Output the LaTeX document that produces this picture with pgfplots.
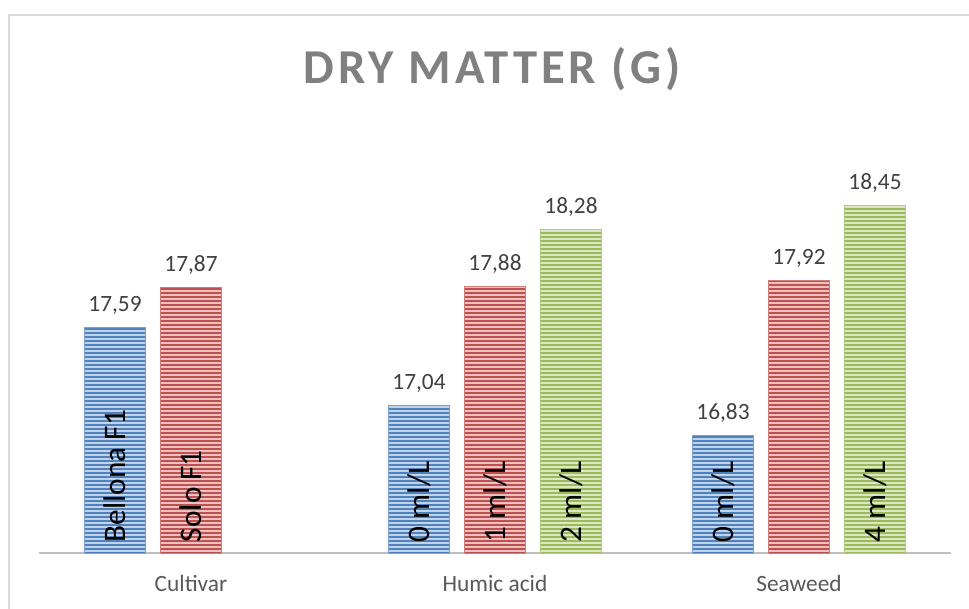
\documentclass[border=0pt]{standalone}
\usepackage{fontspec}
\setmainfont{Carlito}
\usepackage{pgfplots}
\pgfplotsset{compat=1.18}
\usetikzlibrary{patterns.meta}
\definecolor{cblue}{HTML}{4F81BD}
\definecolor{cred}{HTML}{C0504D}
\definecolor{cgreen}{HTML}{9BBB59}
\definecolor{titlegray}{HTML}{808080}
\definecolor{tickgray}{HTML}{595959}
\definecolor{valgray}{HTML}{404040}
\definecolor{axisgray}{HTML}{BFBFBF}
\definecolor{bordergray}{HTML}{D9D9D9}
\pgfplotsset{
  stripebar/.style={
    fill=#1!35!white, draw=#1!75!white, line width=0.5pt,
    postaction={pattern={Lines[angle=0,distance=3pt,line width=1.5pt]}, pattern color=#1}
  },
  vallabels/.style={
    nodes near coords={\pgfmathprintnumber[fixed,fixed zerofill,precision=2,use comma,assume math mode=true]{\pgfplotspointmeta}},
    every node near coord/.append style={font=\fontsize{17.5}{20}\selectfont, text=valgray, anchor=south, yshift=6pt}
  },
  inlabels/.style={
    draw=none, fill=none, point meta=explicit symbolic, nodes near coords,
    every node near coord/.append style={rotate=90, anchor=west, inner xsep=8pt, font=\fontsize{23.5}{28}\selectfont, text=black}
  }
}
\begin{document}
\begin{tikzpicture}
\path[use as bounding box] (0,0) rectangle (726.75pt,456.75pt);
\draw[color=bordergray, line width=1.5pt] (6.75pt,0) -- (6.75pt,445.5pt) -- (726.75pt,445.5pt);
\begin{axis}[
  at={(29.25pt,42pt)}, anchor=south west,
  width=684pt, height=298pt, scale only axis,
  ymin=16, ymax=18.8, xmin=-0.5, xmax=2.5,
  axis y line=none, axis x line*=bottom,
  x axis line style={draw=axisgray, line width=1.5pt, -},
  xtick={0,1,2}, xticklabels={Cultivar, Humic acid, Seaweed},
  major tick length=0pt, ytick=\empty,
  xticklabel style={font=\fontsize{17.5}{20}\selectfont, text=tickgray, yshift=-13.5pt},
  ybar, bar width=0.2, clip=false,
  title={\addfontfeature{LetterSpace=8}DRY MATTER (G)},
  title style={font=\fontsize{36.5}{42}\selectfont\bfseries, text=titlegray, at={(rel axis cs:0.4967,1.198)}, anchor=center},
]
\addplot[stripebar=cblue, bar shift=-0.25, vallabels] coordinates {(0,17.59) (1,17.04) (2,16.83)};
\addplot[stripebar=cred, bar shift=0, vallabels] coordinates {(0,17.87) (1,17.88) (2,17.92)};
\addplot[stripebar=cgreen, bar shift=0.25, vallabels] coordinates {(1,18.28) (2,18.45)};
\addplot[inlabels, bar shift=-0.25] coordinates {(0,16) [Bellona F1] (1,16) [0 ml/L] (2,16) [0 ml/L]};
\addplot[inlabels, bar shift=0] coordinates {(0,16) [Solo F1] (1,16) [1 ml/L]};
\addplot[inlabels, bar shift=0.25] coordinates {(1,16) [2 ml/L] (2,16) [4 ml/L]};
\end{axis}
\end{tikzpicture}
\end{document}
